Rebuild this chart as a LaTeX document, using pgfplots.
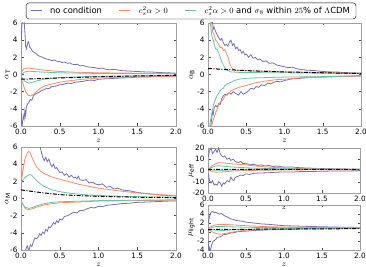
\documentclass[border=0pt]{standalone}
\usepackage{pgfplots}
\pgfplotsset{compat=1.18}
\usepackage{fontspec}
\setmainfont{DejaVu Sans}
\definecolor{cblue}{RGB}{117,112,179}
\definecolor{corange}{RGB}{252,141,98}
\definecolor{cgreen}{RGB}{102,194,165}
\pgfplotsset{
 mystyle/.style={
  scale only axis, anchor=south west,
  xmin=0, xmax=2, xtick={0,0.5,1,1.5,2},
  xticklabel style={/pgf/number format/.cd, fixed, fixed zerofill, precision=1},
  tick align=inside, major tick length=2.5pt,
  axis line style={gray!75},
  every tick/.style={black!70},
  tick label style={font=\fontsize{7.3}{8}\selectfont},
  /pgf/number format/assume math mode=true,
  label style={font=\fontsize{8.5}{9}\selectfont},
  xlabel={$z$},
  xlabel style={yshift=3pt},
  every axis plot/.append style={line width=0.8pt},
 },
 ylab/.style={ylabel style={at={(axis description cs:#1,0.5)}, anchor=center}},
 bl/.style={cblue},
 og/.style={corange},
 gr/.style={cgreen},
 bk/.style={black, line width=1pt, dash pattern=on 4pt off 1.5pt on 1pt off 1.5pt},
}
\begin{document}
\begin{tikzpicture}
\path[use as bounding box] (0pt,0pt) rectangle (366pt,267pt);
% alpha_T
\begin{axis}[mystyle, at={(21pt,141pt)}, width=155pt, height=103pt,
  ymin=-6, ymax=6, ytick={-6,-4,-2,0,2,4,6}, ylabel={$\alpha_{\rm T}$}, ylab=-0.087,
  legend columns=3,
  legend style={at={(1.097,1.117)}, anchor=center, draw=black, rounded corners=3pt,
    font=\fontsize{8.4}{9}\selectfont, inner xsep=4pt, inner ysep=2pt,
    /tikz/every odd column/.append style={column sep=6pt},
    /tikz/every even column/.append style={column sep=15pt}},
  legend image code/.code={\draw[#1,line width=0.9pt] (0pt,0pt) -- (11pt,0pt);},
  ]
\addlegendimage{cblue}
\addlegendentry{no condition}
\addlegendimage{corange}
\addlegendentry{$c_s^2\alpha>0$}
\addlegendimage{cgreen}
\addlegendentry{$c_s^2\alpha>0$ and $\sigma_8$ within $25\%$ of $\Lambda\mathrm{CDM}$}
\addplot[bl, forget plot] coordinates {(0.005,4.0)(0.01,5.5)(0.02,6.5)(0.03,7)(0.04,6.2)(0.05,5.0)(0.06,3.3)(0.07,3.0)(0.08,3.4)(0.09,3.8)(0.1,3.8)(0.11,3.2)(0.13,3.0)(0.15,2.7)(0.17,2.6)(0.2,2.4)(0.22,2.2)(0.25,2.1)(0.28,2.0)(0.3,1.9)(0.33,1.8)(0.36,1.75)(0.4,1.6)(0.43,1.7)(0.46,1.55)(0.5,1.5)(0.53,1.4)(0.56,1.45)(0.6,1.3)(0.63,1.35)(0.66,1.2)(0.7,1.15)(0.73,1.2)(0.76,1.0)(0.8,1.05)(0.85,0.9)(0.9,0.85)(0.95,0.8)(1.0,0.7)(1.05,0.75)(1.1,0.6)(1.15,0.55)(1.2,0.6)(1.3,0.45)(1.4,0.4)(1.5,0.35)(1.6,0.3)(1.7,0.28)(1.8,0.22)(1.9,0.2)(2.0,0.15)};
\addplot[og, forget plot] coordinates {(0.005,0.3)(0.03,0.6)(0.06,0.72)(0.1,0.75)(0.15,0.7)(0.2,0.62)(0.3,0.5)(0.4,0.42)(0.5,0.35)(0.7,0.27)(1.0,0.2)(1.5,0.15)(2.0,0.12)};
\addplot[gr, forget plot] coordinates {(0.005,0.05)(0.05,0.3)(0.1,0.38)(0.2,0.33)(0.3,0.27)(0.5,0.2)(1.0,0.12)(2.0,0.08)};
\addplot[bl, forget plot] coordinates {(0.005,-4.5)(0.01,-6.5)(0.02,-5.5)(0.03,-4.8)(0.04,-5.2)(0.05,-4.2)(0.06,-4.8)(0.07,-3.8)(0.08,-3.5)(0.1,-3.3)(0.12,-2.9)(0.14,-3.0)(0.16,-2.5)(0.18,-2.3)(0.2,-2.2)(0.23,-2.1)(0.26,-1.9)(0.3,-1.75)(0.33,-1.6)(0.36,-1.65)(0.4,-1.4)(0.45,-1.35)(0.5,-1.2)(0.55,-1.15)(0.6,-1.0)(0.65,-1.05)(0.7,-0.9)(0.75,-0.85)(0.8,-0.8)(0.85,-0.7)(0.9,-0.65)(0.95,-0.7)(1.0,-0.55)(1.1,-0.5)(1.2,-0.45)(1.3,-0.4)(1.4,-0.38)(1.5,-0.3)(1.6,-0.3)(1.7,-0.25)(1.8,-0.22)(1.9,-0.2)(2.0,-0.2)};
\addplot[og, forget plot] coordinates {(0.005,-0.5)(0.03,-1.2)(0.06,-2.0)(0.09,-2.4)(0.12,-2.5)(0.15,-2.4)(0.2,-2.0)(0.25,-1.6)(0.3,-1.35)(0.4,-1.1)(0.5,-0.9)(0.6,-0.75)(0.8,-0.55)(1.0,-0.42)(1.5,-0.28)(2.0,-0.2)};
\addplot[gr, forget plot] coordinates {(0.005,-0.3)(0.05,-0.8)(0.1,-1.0)(0.15,-0.9)(0.2,-0.75)(0.3,-0.55)(0.5,-0.35)(1.0,-0.2)(2.0,-0.12)};
\addplot[bk, forget plot] coordinates {(0,-0.55)(0.5,-0.4)(1.0,-0.27)(1.5,-0.17)(2.0,-0.1)};
\end{axis}
% alpha_B
\begin{axis}[mystyle, at={(208pt,141pt)}, width=153pt, height=103pt,
  ymin=-6, ymax=6, ytick={-6,-4,-2,0,2,4,6}, ylabel={$\alpha_{\rm B}$}, ylab=-0.105]
\addplot[bl] coordinates {(0.005,7)(0.05,6.5)(0.06,6.0)(0.07,5.3)(0.08,5.5)(0.1,5.0)(0.12,4.6)(0.14,4.3)(0.16,4.0)(0.18,4.2)(0.2,3.7)(0.22,3.4)(0.24,3.5)(0.26,3.3)(0.28,3.8)(0.3,4.0)(0.32,3.4)(0.34,3.6)(0.36,3.0)(0.38,3.2)(0.4,2.8)(0.42,2.9)(0.44,2.5)(0.46,2.7)(0.48,2.3)(0.5,2.4)(0.53,2.0)(0.56,2.3)(0.59,1.9)(0.62,2.0)(0.65,1.7)(0.68,1.8)(0.72,1.5)(0.76,1.6)(0.8,1.3)(0.85,1.35)(0.9,1.1)(0.95,1.0)(1.0,0.9)(1.05,0.8)(1.1,0.85)(1.15,0.7)(1.2,0.6)(1.3,0.5)(1.4,0.45)(1.5,0.35)(1.6,0.3)(1.7,0.28)(1.8,0.2)(1.9,0.2)(2.0,0.15)};
\addplot[bl] coordinates {(0.005,-7)(0.03,-6.5)(0.05,-5.0)(0.06,-4.3)(0.07,-4.6)(0.08,-3.9)(0.1,-3.6)(0.12,-3.8)(0.14,-3.4)(0.16,-3.5)(0.18,-2.8)(0.2,-2.5)(0.22,-2.3)(0.25,-2.4)(0.28,-2.1)(0.3,-2.3)(0.33,-2.0)(0.36,-2.2)(0.4,-2.4)(0.43,-2.0)(0.46,-2.3)(0.5,-2.1)(0.53,-1.9)(0.56,-1.6)(0.6,-1.7)(0.63,-1.4)(0.66,-1.5)(0.7,-1.2)(0.74,-1.3)(0.78,-1.0)(0.82,-1.1)(0.86,-0.9)(0.9,-0.8)(0.95,-0.85)(1.0,-0.7)(1.05,-0.6)(1.1,-0.5)(1.2,-0.45)(1.3,-0.35)(1.4,-0.3)(1.5,-0.3)(1.6,-0.25)(1.7,-0.22)(1.8,-0.2)(1.9,-0.18)(2.0,-0.15)};
\addplot[og] coordinates {(0.005,7)(0.04,6.5)(0.06,5.0)(0.08,4.6)(0.1,4.0)(0.12,3.8)(0.14,3.5)(0.16,3.1)(0.18,3.2)(0.2,2.8)(0.22,2.9)(0.24,2.5)(0.26,2.1)(0.28,1.4)(0.3,0.9)(0.33,0.6)(0.36,0.5)(0.4,0.45)(0.5,0.45)(0.6,0.4)(0.7,0.38)(0.8,0.4)(0.9,0.35)(1.0,0.3)(1.2,0.28)(1.5,0.22)(2.0,0.15)};
\addplot[og] coordinates {(0.005,-7)(0.04,-6.5)(0.06,-5.5)(0.08,-5.0)(0.1,-4.5)(0.12,-4.0)(0.14,-3.5)(0.16,-3.2)(0.18,-3.1)(0.2,-2.9)(0.22,-2.5)(0.25,-2.3)(0.28,-2.1)(0.3,-1.9)(0.35,-1.7)(0.4,-1.5)(0.45,-1.4)(0.5,-1.3)(0.6,-1.0)(0.7,-0.85)(0.8,-0.7)(0.9,-0.6)(1.0,-0.55)(1.2,-0.4)(1.5,-0.3)(2.0,-0.2)};
\addplot[gr] coordinates {(0.005,7)(0.03,6)(0.05,4.5)(0.07,4.0)(0.09,3.2)(0.1,3.0)(0.12,2.9)(0.14,2.5)(0.16,2.0)(0.18,1.5)(0.2,1.1)(0.22,0.8)(0.25,0.5)(0.3,0.3)(0.4,0.25)(0.6,0.22)(1.0,0.2)(1.5,0.15)(2.0,0.1)};
\addplot[gr] coordinates {(0.005,-7)(0.03,-5.5)(0.05,-4.5)(0.07,-3.6)(0.1,-2.8)(0.13,-2.3)(0.16,-1.9)(0.18,-1.7)(0.2,-1.6)(0.22,-1.3)(0.25,-1.1)(0.3,-0.9)(0.35,-0.7)(0.4,-0.55)(0.5,-0.45)(0.6,-0.4)(0.8,-0.35)(1.0,-0.3)(1.5,-0.25)(2.0,-0.15)};
\addplot[bk] coordinates {(0,0.7)(0.5,0.45)(1.0,0.3)(1.5,0.2)(2.0,0.12)};
\end{axis}
% alpha_M
\begin{axis}[mystyle, at={(21pt,17pt)}, width=155pt, height=103pt,
  ymin=-6, ymax=6, ytick={-6,-4,-2,0,2,4,6}, ylabel={$\alpha_{\rm M}$}, ylab=-0.087]
\addplot[bl] coordinates {(0.005,7)(0.05,6.5)(0.1,6.2)(0.15,7)(0.2,7)(0.24,6.3)(0.26,5.5)(0.28,4.8)(0.3,4.4)(0.32,4.8)(0.34,4.3)(0.36,4.6)(0.38,4.0)(0.4,3.7)(0.42,4.0)(0.44,3.5)(0.46,3.6)(0.48,3.3)(0.5,3.0)(0.53,3.1)(0.56,2.7)(0.59,2.9)(0.62,2.5)(0.65,2.7)(0.68,2.4)(0.7,2.5)(0.72,2.3)(0.74,2.6)(0.76,2.2)(0.8,2.1)(0.84,2.2)(0.88,1.8)(0.92,1.9)(0.96,1.7)(1.0,1.6)(1.05,1.7)(1.1,1.3)(1.15,1.4)(1.2,1.1)(1.25,1.2)(1.3,1.0)(1.4,0.9)(1.5,0.7)(1.6,0.6)(1.7,0.5)(1.8,0.4)(1.9,0.35)(2.0,0.3)};
\addplot[bl] coordinates {(0.005,-4)(0.01,-6.5)(0.03,-7)(0.06,-6.0)(0.08,-5.5)(0.1,-6.1)(0.12,-5.4)(0.14,-5.6)(0.16,-5.0)(0.18,-4.6)(0.2,-4.7)(0.22,-4.5)(0.24,-4.1)(0.26,-4.3)(0.28,-3.9)(0.3,-4.1)(0.32,-3.6)(0.34,-3.8)(0.36,-3.3)(0.38,-3.4)(0.4,-3.1)(0.42,-2.8)(0.44,-3.0)(0.46,-2.6)(0.48,-2.8)(0.5,-2.4)(0.53,-2.5)(0.56,-2.1)(0.6,-2.0)(0.64,-1.8)(0.68,-1.6)(0.72,-1.7)(0.76,-1.4)(0.8,-1.4)(0.85,-1.2)(0.9,-1.05)(0.95,-1.1)(1.0,-0.9)(1.05,-0.95)(1.1,-0.8)(1.2,-0.7)(1.3,-0.6)(1.4,-0.55)(1.5,-0.45)(1.6,-0.42)(1.7,-0.38)(1.8,-0.34)(1.9,-0.3)(2.0,-0.3)};
\addplot[og] coordinates {(0.005,5)(0.01,2.3)(0.03,3.5)(0.05,4.6)(0.08,5.3)(0.1,5.5)(0.12,5.3)(0.15,4.6)(0.2,3.7)(0.25,3.2)(0.3,2.9)(0.4,2.5)(0.5,2.25)(0.6,2.0)(0.75,1.65)(1.0,1.2)(1.25,0.9)(1.5,0.65)(1.75,0.45)(2.0,0.35)};
\addplot[og] coordinates {(0.005,-0.3)(0.03,-0.8)(0.06,-1.2)(0.1,-1.3)(0.15,-1.2)(0.2,-1.0)(0.3,-0.75)(0.4,-0.6)(0.5,-0.5)(0.75,-0.4)(1.0,-0.3)(1.5,-0.25)(2.0,-0.2)};
\addplot[gr] coordinates {(0.005,2.0)(0.03,2.2)(0.06,2.5)(0.1,2.75)(0.12,2.8)(0.15,2.6)(0.2,2.1)(0.25,1.7)(0.3,1.4)(0.35,1.2)(0.4,1.0)(0.5,0.8)(0.6,0.65)(0.8,0.45)(1.0,0.35)(1.5,0.2)(2.0,0.15)};
\addplot[gr] coordinates {(0.005,-0.4)(0.05,-1.0)(0.1,-1.15)(0.15,-1.05)(0.2,-0.85)(0.3,-0.6)(0.4,-0.45)(0.5,-0.38)(1.0,-0.25)(2.0,-0.15)};
\addplot[bk] coordinates {(0,1.0)(0.25,0.7)(0.5,0.45)(0.75,0.33)(1.0,0.25)(1.5,0.15)(2.0,0.1)};
\end{axis}
% mu_eff
\begin{axis}[mystyle, at={(208pt,74pt)}, width=152pt, height=45pt,
  ymin=-20, ymax=20, ytick={-20,-10,0,10,20}, ylabel={$\mu_{\rm eff}$}, ylab=-0.109]
\addplot[bl] coordinates {(0.005,12)(0.02,18)(0.04,20)(0.06,15)(0.08,17)(0.1,19)(0.12,16)(0.14,20)(0.16,15)(0.18,13)(0.2,12)(0.22,13)(0.25,10)(0.28,11)(0.3,9)(0.33,10)(0.36,8)(0.4,7)(0.43,8)(0.46,6)(0.5,6.5)(0.55,5)(0.6,5.5)(0.65,4.5)(0.7,5)(0.75,4)(0.8,4.5)(0.85,3.5)(0.9,4)(1.0,3)(1.1,3.2)(1.2,2.5)(1.3,2.2)(1.4,2)(1.5,1.7)(1.6,1.5)(1.8,1.2)(2.0,1.0)};
\addplot[bl] coordinates {(0.005,-3)(0.02,-9)(0.04,-11)(0.06,-9)(0.08,-13)(0.1,-12)(0.12,-13)(0.14,-10)(0.16,-11)(0.18,-14)(0.2,-11)(0.22,-12)(0.25,-9)(0.28,-10)(0.3,-6)(0.32,-8)(0.34,-9)(0.36,-6)(0.4,-5)(0.43,-4)(0.46,-4.5)(0.5,-3)(0.55,-3.5)(0.6,-2.5)(0.7,-2.2)(0.8,-2)(0.9,-1.5)(1.0,-1.3)(1.1,-1.4)(1.2,-1.0)(1.4,-0.8)(1.6,-0.5)(1.8,-0.4)(2.0,-0.3)};
\addplot[og] coordinates {(0.005,1)(0.05,4)(0.1,6)(0.15,7)(0.2,6.8)(0.3,6)(0.4,5.5)(0.5,5)(0.6,4.2)(0.75,3.2)(1.0,2.3)(1.25,1.7)(1.5,1.4)(2.0,1.1)};
\addplot[og] coordinates {(0.005,0.5)(0.05,-1.0)(0.1,-1.5)(0.2,-1.2)(0.3,-0.6)(0.5,0)(1.0,0.5)(2.0,0.8)};
\addplot[gr] coordinates {(0.005,1)(0.05,2.8)(0.1,4)(0.15,4.2)(0.2,3.8)(0.3,3.2)(0.5,2.4)(0.75,1.8)(1.0,1.5)(2.0,1.0)};
\addplot[gr] coordinates {(0.005,0.8)(0.1,0.2)(0.2,0.3)(0.5,0.6)(1.0,0.8)(2.0,0.9)};
\addplot[bk] coordinates {(0,0.9)(1,0.95)(2.0,1.0)};
\end{axis}
% mu_light
\begin{axis}[mystyle, at={(208pt,17pt)}, width=152pt, height=45pt,
  ymin=-4, ymax=6, ytick={-4,-2,0,2,4,6}, ylabel={$\mu_{\rm light}$}, ylab=-0.109]
\addplot[bl] coordinates {(0.005,2.0)(0.02,3.5)(0.04,4.4)(0.06,4.6)(0.08,4.3)(0.1,4.4)(0.12,4.2)(0.15,4.0)(0.18,4.1)(0.2,3.8)(0.23,3.5)(0.26,3.3)(0.3,2.9)(0.33,2.8)(0.36,2.6)(0.4,2.5)(0.45,2.4)(0.5,2.2)(0.55,2.1)(0.6,2.0)(0.7,1.8)(0.8,1.7)(0.9,1.55)(1.0,1.4)(1.2,1.3)(1.4,1.2)(1.6,1.12)(1.8,1.05)(2.0,1.0)};
\addplot[bl] coordinates {(0.005,-2)(0.01,-4.5)(0.02,-3.5)(0.03,-4.2)(0.05,-2.8)(0.07,-2.0)(0.1,-1.7)(0.12,-1.2)(0.15,-1.1)(0.18,-0.9)(0.2,-0.6)(0.25,-0.5)(0.3,-0.2)(0.35,-0.1)(0.4,0.1)(0.5,0.2)(0.6,0.35)(0.7,0.4)(0.8,0.5)(1.0,0.6)(1.2,0.65)(1.5,0.7)(2.0,0.8)};
\addplot[og] coordinates {(0.005,0.8)(0.05,1.3)(0.1,1.6)(0.2,1.7)(0.3,1.6)(0.5,1.4)(0.75,1.2)(1.0,1.1)(1.5,1.0)(2.0,0.95)};
\addplot[og] coordinates {(0.005,0.6)(0.05,0.1)(0.1,-0.3)(0.15,-0.5)(0.2,-0.4)(0.3,-0.1)(0.4,0.2)(0.5,0.4)(0.75,0.6)(1.0,0.7)(1.5,0.8)(2.0,0.85)};
\addplot[gr] coordinates {(0.005,0.8)(0.1,1.2)(0.2,1.2)(0.5,1.05)(1.0,0.95)(2.0,0.9)};
\addplot[gr] coordinates {(0.005,0.7)(0.1,0.4)(0.2,0.35)(0.5,0.6)(1.0,0.75)(2.0,0.85)};
\addplot[bk] coordinates {(0,0.55)(1,0.65)(2.0,0.75)};
\end{axis}
\end{tikzpicture}
\end{document}
